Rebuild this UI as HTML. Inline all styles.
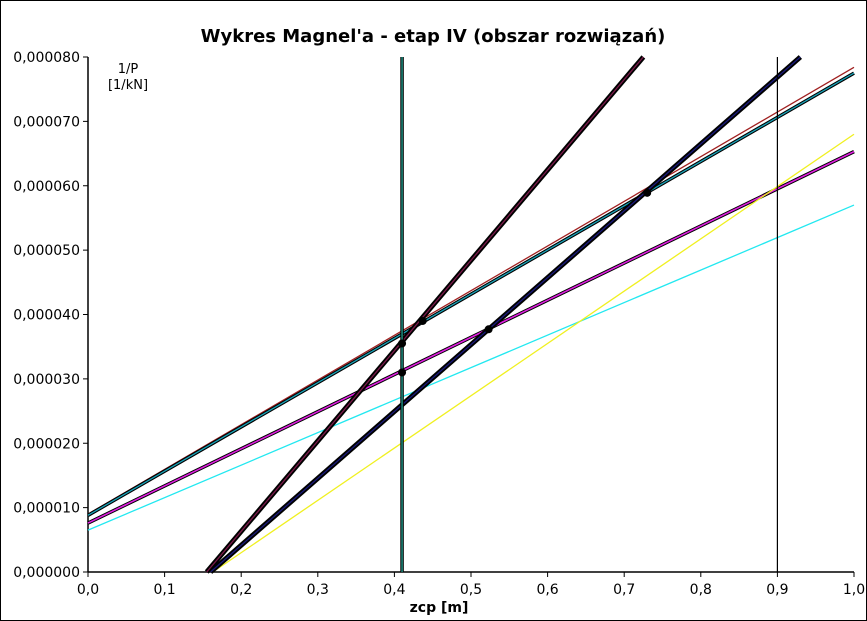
<!DOCTYPE html>
<html><head><meta charset="utf-8"><style>
body{margin:0;background:#fff}
svg{display:block;font-family:"DejaVu Sans","Liberation Sans",sans-serif}
</style></head><body>
<svg id="c" width="867" height="621">
<rect x="0.5" y="0.5" width="866" height="620" fill="#fff" stroke="#000"/>
<text x="433" y="42" text-anchor="middle" font-size="18" font-weight="bold">Wykres Magnel'a - etap IV (obszar rozwiązań)</text>
<text x="128" y="73" text-anchor="middle" font-size="13">1/P</text>
<text x="128" y="89" text-anchor="middle" font-size="13">[1/kN]</text>
<text x="439" y="612" text-anchor="middle" font-size="14" font-weight="bold">zcp [m]</text>
<g id="ax"></g><g id="ln"></g><g id="pt"></g>
</svg>
<script>
const xTicks=[0,0.1,0.2,0.3,0.4,0.5,0.6,0.7,0.8,0.9,1.0];
const yTicks=[0,0.00001,0.00002,0.00003,0.00004,0.00005,0.00006,0.00007,0.00008];
const xTickLabels=["0,0","0,1","0,2","0,3","0,4","0,5","0,6","0,7","0,8","0,9","1,0"];
const yTickLabels=["0,000000","0,000010","0,000020","0,000030","0,000040","0,000050","0,000060","0,000070","0,000080"];
const lineNames=["line-1-upper","line-1b-upper","line-2","line-3-cyan","line-4-yellow","line-5-thick","line-6-thick","vertical-e-limit","vertical-right-limit"];
const lineX0=[0,0,0,0,0.163,0.16,0.155,0.41,0.9];
const lineY0=[0.000009,0.0000088,0.0000076,0.0000065,0,0,0,0,0];
const lineX1=[1,1,1,1,1,0.93,0.725,0.41,0.9];
const lineY1=[0.0000784,0.0000775,0.0000653,0.000057,0.000068,0.00008,0.00008,0.00008,0.00008];
const lineColor=["#a02020","#1aa3b8","#e020e0","#22e8f0","#f0f020","#1a1a7a","#7a1a4a","#20a090","#000"];
const lineUnder=[0,1,1,0,0,1,1,1,0];
const ptX=[0.41,0.41,0.437,0.523,0.73];
const ptY=[0.0000355,0.000031,0.000039,0.0000377,0.0000589];
const X=v=>88+v*766, Y=v=>572-v/0.00008*515;
const ns="http://www.w3.org/2000/svg";
function mk(p,t,a){const e=document.createElementNS(ns,t);for(const k in a)e.setAttribute(k,a[k]);p.appendChild(e);return e;}
const ax=document.getElementById('ax'),ln=document.getElementById('ln'),pt=document.getElementById('pt');
xTicks.forEach((v,i)=>{
 const t=mk(ax,'line',{x1:X(v),x2:X(v),y1:572,y2:577,stroke:'#000'});
 
 
 const l=mk(ax,'text',{x:X(v),y:594,'text-anchor':'middle','font-size':'14'});l.textContent=xTickLabels[i];
 
 
});
yTicks.forEach((v,i)=>{
 const t=mk(ax,'line',{x1:83,x2:88,y1:Y(v),y2:Y(v),stroke:'#000'});
 
 
 const l=mk(ax,'text',{x:80,y:Y(v)+5,'text-anchor':'end','font-size':'14'});l.textContent=yTickLabels[i];
 
 
});
const xa=mk(ax,'line',{x1:88,x2:854,y1:572,y2:572,stroke:'#000','stroke-width':1.5});


const ya=mk(ax,'line',{x1:88,x2:88,y1:57,y2:572,stroke:'#000','stroke-width':1.5});


lineX0.forEach((x0,i)=>{
 const g=mk(ln,'g',{});
 
 
 const c={x1:X(x0),y1:Y(lineY0[i]),x2:X(lineX1[i]),y2:Y(lineY1[i])};
 if(lineUnder[i]) mk(g,'line',Object.assign({stroke:'#000','stroke-width':(i==5||i==6)?5:3.5},c));
 mk(g,'line',Object.assign({stroke:lineColor[i],'stroke-width':i==8?1.2:(i==2?1.6:1.3)},c));
});
ptX.forEach((x,i)=>{
 const c=mk(pt,'circle',{cx:X(x),cy:Y(ptY[i]),r:4,fill:'#000'});
 
 
});
</script>
</body></html>
